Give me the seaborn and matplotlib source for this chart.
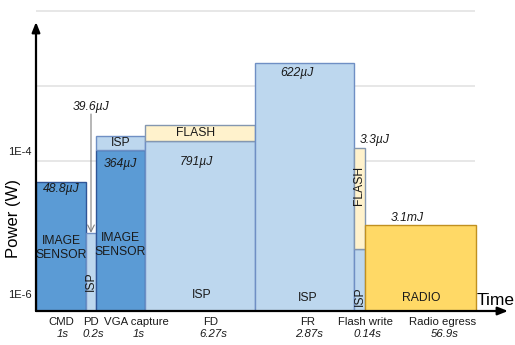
import numpy as np
import matplotlib
matplotlib.use("Agg")
import matplotlib.pyplot as plt
import seaborn as sns

# ---------------- data ----------------
phases = ["CMD", "PD", "VGA capture", "FD", "FR", "Flash write", "Radio egress"]
durations = ["1s", "0.2s", "1s", "6.27s", "2.87s", "0.14s", "56.9s"]
energies = ["48.8µJ", "39.6µJ", "364µJ", "791µJ", "622µJ", "3.3µJ", "3.1mJ"]

# stacked power segments per phase: (phase index, component, bottom W, top W)
seg_phase = [0, 1, 2, 2, 3, 3, 4, 5, 5, 6]
seg_comp = ["IMAGE\nSENSOR", "ISP", "IMAGE\nSENSOR", "ISP", "ISP", "FLASH",
            "ISP", "ISP", "FLASH", "RADIO"]
seg_bottom = [1e-6, 1e-6, 1e-6, 1.40e-4, 1e-6, 1.85e-4, 1e-6, 1e-6, 6.7e-6, 1e-6]
seg_top = [5.25e-5, 1.10e-5, 1.40e-4, 2.15e-4, 1.85e-4, 3.00e-4, 2.03e-3,
           6.7e-6, 1.49e-4, 1.40e-5]

ytick_vals = [1e-4, 1e-6]
ytick_labels = ["1E-4", "1E-6"]

# ---------------- layout (pixels) ----------------
slot_w = [50, 10, 49, 110, 99, 11, 111]
name_dx = [0, 0, 16, 11, 3, 6, 22]
seg_rot = [0, 90, 0, 0, 0, 0, 0, 90, 90, 0]

comp_face = {"IMAGE\nSENSOR": "#5B9BD5", "ISP": "#BDD7EE", "FLASH": "#FFF2CC", "RADIO": "#FFD966"}
comp_edge = {"IMAGE\nSENSOR": "#2F5597", "ISP": "#6F8FC4", "FLASH": "#8497B0", "RADIO": "#C09020"}

sns.set_theme(style="white")
plt.rcParams["font.family"] = ["Liberation Sans", "DejaVu Sans"]

W, H = 515, 345
fig = plt.figure(figsize=(W / 100, H / 100), dpi=100)
ax = fig.add_axes([36 / W, 34 / H, 479 / W, 306 / H])
ax.set_yscale("log")
ymin = 1e-6
ymax = 10 ** (-6 + 306 / 75)
ax.set_xlim(0, 479)
ax.set_ylim(ymin, ymax)
for s in ax.spines.values():
    s.set_visible(False)
ax.set_xticks([])
ax.set_yticks([])
ax.minorticks_off()

left = np.concatenate([[0], np.cumsum(slot_w)[:-1]])
centers = left + np.array(slot_w) / 2

# grid lines
ax.hlines([1e-5, 1e-4, 1e-3, 1e-2], 0, 439, colors="#E3E3E3", lw=1.2, zorder=0)

# bars
for p, c, b, t, r in zip(seg_phase, seg_comp, seg_bottom, seg_top, seg_rot):
    ax.bar(left[p], t - b, bottom=b, width=slot_w[p], align="edge",
           color=comp_face[c], edgecolor=comp_edge[c], lw=1, zorder=2)

# component labels
def lab(x, y, s, rot=0, size=8.7, **kw):
    ax.text(x, y, s, rotation=rot, ha="center", va="center", fontsize=size,
            color="#1a1a1a", zorder=5, linespacing=1.15, **kw)

def ylog(ypix):
    return 10 ** (-6 + (311 - ypix) / 75)

lab(centers[0], ylog(248), "IMAGE\nSENSOR")
lab(centers[1], ylog(281), "ISP", rot=90)
lab(centers[2], ylog(245), "IMAGE\nSENSOR")
lab(centers[2], ylog(143), "ISP")
lab(centers[3] + 2, ylog(295), "ISP")
lab(centers[3] - 4, ylog(133), "FLASH")
lab(centers[4] + 3, ylog(298), "ISP")
lab(centers[5], ylog(296), "ISP", rot=90)
lab(centers[5], ylog(185), "FLASH", rot=90)
lab(centers[6] + 1, ylog(298), "RADIO")

# energy labels
ekw = dict(fontsize=8.7, style="italic", ha="center", va="center", color="#1a1a1a", zorder=5)
ax.text(centers[0], ylog(189), energies[0], **ekw)
ax.text(centers[1], ylog(107), energies[1], **ekw)
ax.annotate("", xy=(centers[1], seg_top[1]), xytext=(centers[1], ylog(114)),
            arrowprops=dict(arrowstyle="->", color="#808080", lw=0.8,
                            shrinkA=0, shrinkB=0), zorder=4)
ax.text(centers[2], ylog(164), energies[2], **ekw)
ax.text(centers[3] - 4, ylog(162), energies[3], **ekw)
ax.text(centers[4] - 7, ylog(73), energies[4], **ekw)
ax.text(centers[5] + 15, ylog(140), energies[5], **ekw)
ax.text(centers[6] - 13, ylog(218), energies[6], **ekw)

# phase names and durations
for i in range(len(phases)):
    x = centers[i] + name_dx[i]
    ax.text(x, -11 / 306, phases[i], transform=ax.get_xaxis_transform(),
            ha="center", va="center", fontsize=8.2, color="#1a1a1a", clip_on=False)
    ax.text(x + 2, -23 / 306, durations[i], transform=ax.get_xaxis_transform(),
            ha="center", va="center", fontsize=8.2, style="italic", color="#1a1a1a",
            clip_on=False)

# y tick labels
for v, s, dy in zip(ytick_vals, ytick_labels, [9, 16]):
    ax.annotate(s, xy=(0, v), xytext=(-3, dy * 0.72), textcoords="offset points",
                ha="right", va="center", fontsize=8, color="#1a1a1a",
                annotation_clip=False)

# axes arrows
ax.annotate("", xy=(0, ylog(22)), xytext=(0, ymin),
            arrowprops=dict(arrowstyle="-|>,head_length=0.5,head_width=0.2",
                            color="black", lw=1.6, shrinkA=0, shrinkB=0),
            annotation_clip=False, zorder=6)
ax.annotate("", xy=(472, ymin), xytext=(0, ymin),
            arrowprops=dict(arrowstyle="-|>,head_length=0.5,head_width=0.2",
                            color="black", lw=1.6, shrinkA=0, shrinkB=0),
            annotation_clip=False, zorder=6)

ax.text(476 - 36 + 1, ylog(300), "Time", fontsize=12.5, ha="left", va="center",
        color="black")
fig.text(14 / W, 1 - 218 / H, "Power (W)", rotation=90, fontsize=12,
         ha="center", va="center", color="black")

fig.savefig("out.png", dpi=100)
